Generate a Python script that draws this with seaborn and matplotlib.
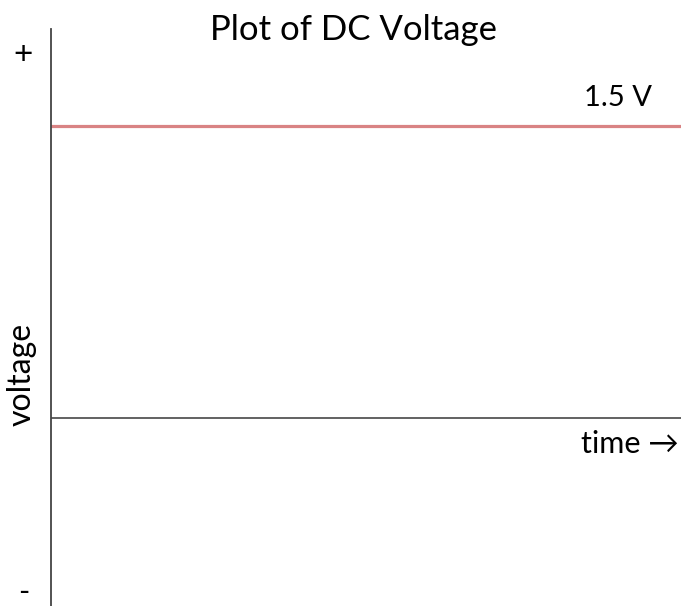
import numpy as np
import pandas as pd
import seaborn as sns
import matplotlib.pyplot as plt

# data
time = [0, 10]
voltage = [1.5, 1.5]
dc_label = "1.5 V"
title = "Plot of DC Voltage"

sns.set_style("white")
plt.rcParams['font.family'] = ['Lato', 'DejaVu Sans']
plt.rcParams['text.color'] = 'black'

W, H = 681, 606
fig = plt.figure(figsize=(W / 100, H / 100), dpi=100)
ax = fig.add_axes([51 / W, 0, 1 - 51 / W, (606 - 29) / H])

df = pd.DataFrame({'time': time, 'voltage': voltage})
sns.lineplot(data=df, x='time', y='voltage', ax=ax, color='#d98384', linewidth=2.3)

ax.set_xlim(0, 10)
ax.set_ylim(-0.97, 2.0)
ax.axhline(0, color='#555555', linewidth=1.3)
for s in ['top', 'right', 'bottom']:
    ax.spines[s].set_visible(False)
ax.spines['left'].set_color('#444444')
ax.spines['left'].set_linewidth(1.3)
ax.set_xticks([])
ax.set_yticks([])
ax.set_xlabel('')
ax.set_ylabel('')


def px(x, y):
    return x / W, 1 - y / H


fig.text(*px(353, 30), title, fontsize=25, ha='center', va='center')
fig.text(*px(618, 98), dc_label, fontsize=21, ha='center', va='center')
fig.text(*px(679, 444), "time \u2192", fontsize=22, ha='right', va='center')
fig.text(*px(22, 374), "voltage", fontsize=23, ha='center', va='center', rotation=90)
fig.text(*px(23, 55), "+", fontsize=24, ha='center', va='center')
fig.text(*px(24, 592), "-", fontsize=22, ha='center', va='center')

fig.savefig('out.png', dpi=100)
